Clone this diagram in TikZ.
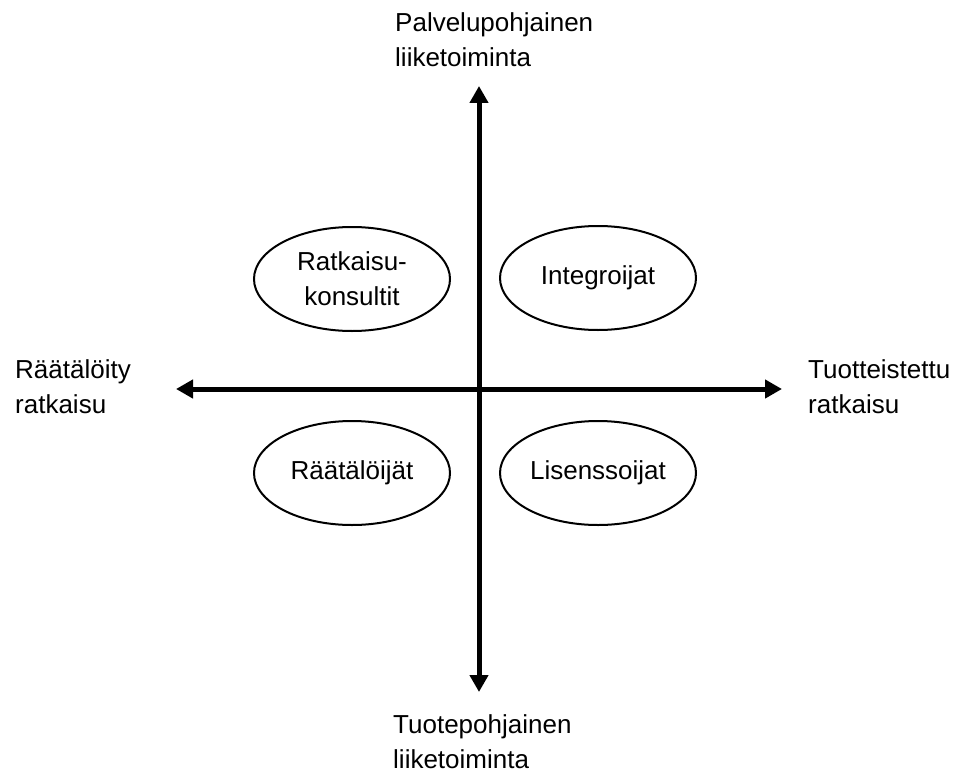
\documentclass[tikz,border=0pt]{standalone}
\usepackage{fontspec}
\setmainfont{Liberation Sans}
\usetikzlibrary{arrows.meta,shapes.geometric}
\begin{document}
\begin{tikzpicture}[x=1pt,y=-1pt,
  axis/.style={line width=5pt,
    {Triangle[length=17pt,width=18pt]}-{Triangle[length=17pt,width=18pt]}},
  group/.style={ellipse, draw, line width=2pt, minimum width=196pt,
    minimum height=104pt, inner sep=0pt, align=center,
    font=\fontsize{26}{35}\selectfont},
  caption/.style={align=left, anchor=base west, inner sep=0pt,
    font=\fontsize{26}{35}\selectfont}]
\useasboundingbox (0,0) rectangle (968,773);

% axis end points
\coordinate (top) at (479,86);
\coordinate (bottom) at (479,692);
\coordinate (left) at (176,389);
\coordinate (right) at (782,389);

\draw[axis] (left) -- (right);
\draw[axis] (top) -- (bottom);

% axis captions (anchored at the baseline of the last line)
\node[caption] (service) at (395,67) {Palvelupohjainen\\liiketoiminta};
\node[caption] (product) at (393,768) {Tuotepohjainen\\liiketoiminta};
\node[caption] (custom) at (15,413) {Räätälöity\\ratkaisu};
\node[caption] (packaged) at (808,413) {Tuotteistettu\\ratkaisu};

% quadrant groups
\node[group] (consult) at (352,279) {Ratkaisu-\\konsultit};
\node[group] (integr) at (598,278) {Integroijat};
\node[group] (tailor) at (352,473) {Räätälöijät};
\node[group] (license) at (598,473) {Lisenssoijat};
\end{tikzpicture}
\end{document}
